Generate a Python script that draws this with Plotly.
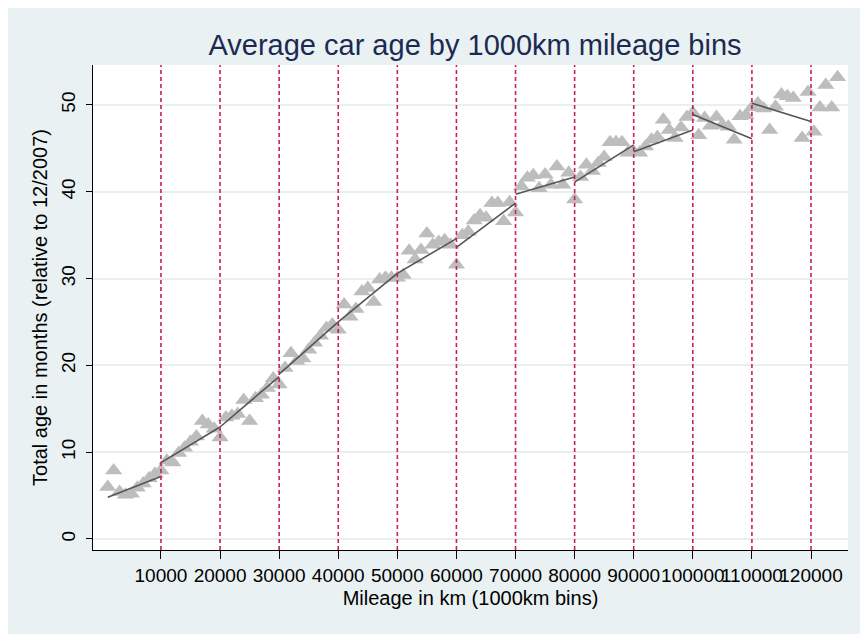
import plotly.graph_objects as go

# Binned averages (mileage in km, age in months)
mileage = [1000, 2000, 3000, 4000, 5000, 6000, 7000, 8000, 9000, 10000,
           11000, 12000, 13000, 14000, 15000, 16000, 17000, 18000, 19000, 20000,
           21000, 22000, 23000, 24000, 25000, 26000, 27000, 28000, 29000, 30000,
           31000, 32000, 33000, 34000, 35000, 36000, 37000, 38000, 39000, 40000,
           41000, 42000, 43000, 44000, 45000, 46000, 47000, 48000, 49000, 50000,
           51000, 52000, 53000, 54000, 55000, 56000, 57000, 58000, 59000, 60000,
           61000, 62000, 63000, 64000, 65000, 66000, 67000, 68000, 69000, 70000,
           71000, 72000, 73000, 74000, 75000, 76000, 77000, 78000, 79000, 80000,
           81000, 82000, 83000, 84000, 85000, 86000, 87000, 88000, 89000, 90000,
           91000, 92000, 93000, 94000, 95000, 96000, 97000, 98000, 99000, 100000,
           101000, 102000, 103000, 104000, 105000, 106000, 107000, 108000, 109000, 110000,
           111000, 112000, 113000, 114000, 115000, 116000, 117000, 118500,
           119500, 120500, 121500, 122500, 123500, 124500]
age = [6.0, 7.9, 5.4, 5.1, 5.2, 5.9, 6.4, 7.0, 7.5, 7.9,
       9.0, 8.8, 9.9, 10.5, 11.2, 11.8, 13.6, 13.2, 12.7, 11.7,
       14.0, 14.2, 14.4, 16.0, 13.6, 16.2, 16.6, 17.4, 18.5, 17.8,
       19.7, 21.4, 20.5, 20.8, 21.8, 22.6, 23.4, 24.3, 24.7, 24.1,
       27.0, 25.6, 26.5, 28.5, 28.9, 27.3, 29.9, 30.1, 30.1, 30.1,
       30.4, 33.2, 32.2, 33.3, 35.2, 33.9, 34.2, 34.4, 33.9, 31.6,
       35.0, 35.4, 36.7, 37.3, 37.0, 38.7, 38.7, 36.6, 38.8, 37.6,
       40.6, 41.6, 41.9, 40.4, 42.0, 40.8, 42.9, 40.8, 42.2, 39.1,
       41.7, 43.1, 42.4, 43.3, 44.0, 45.7, 45.7, 45.7, 44.5, 44.6,
       44.5, 45.2, 46.0, 46.3, 48.3, 47.1, 46.2, 47.4, 48.6, 49.1,
       46.5, 48.5, 47.6, 48.6, 47.7, 47.5, 46.0, 48.7, 48.8, 49.7,
       50.2, 49.6, 47.1, 49.8, 51.2, 51.0, 50.8, 46.2,
       51.5, 46.9, 49.7, 52.3, 49.7, 53.2]

# Piecewise linear fits within each 10000 km bin
seg_start_x = [1000, 10000, 20000, 30000, 40000, 50000, 60000, 70000, 80000, 90000, 100000, 110000]
seg_end_x = [10000, 20000, 30000, 40000, 50000, 60000, 70000, 80000, 90000, 100000, 110000, 120000]
seg_start_y = [4.8, 8.8, 12.9, 19.0, 25.0, 30.6, 33.6, 39.7, 41.1, 44.6, 48.9, 50.2]
seg_end_y = [7.2, 12.9, 18.7, 25.0, 30.6, 34.6, 38.7, 41.7, 45.4, 47.1, 46.1, 48.1]

# Bin boundaries (dashed reference lines)
bin_lines = [10000, 20000, 30000, 40000, 50000, 60000, 70000, 80000, 90000, 100000, 110000, 120000]
x_ticks = bin_lines
x_tick_labels = [str(v) for v in x_ticks]
y_ticks = [0, 10, 20, 30, 40, 50]

fig = go.Figure()

fig.add_trace(go.Scatter(
    x=mileage, y=age, mode="markers",
    marker=dict(symbol="triangle-up", size=15, color="#bdbdbd", line=dict(width=0)),
    showlegend=False, hoverinfo="skip"))

lx, ly = [], []
for x0, x1, y0, y1 in zip(seg_start_x, seg_end_x, seg_start_y, seg_end_y):
    lx += [x0, x1, None]
    ly += [y0, y1, None]
fig.add_trace(go.Scatter(x=lx, y=ly, mode="lines",
                         line=dict(color="#555555", width=1.6),
                         showlegend=False, hoverinfo="skip"))

for b in bin_lines:
    fig.add_shape(type="line", xref="x", yref="paper", x0=b, x1=b, y0=0, y1=1,
                  line=dict(color="#cf1f4d", width=1.6, dash="4px,3px"), layer="above")

fig.update_layout(
    width=868, height=634,
    paper_bgcolor="#e9f1f3", plot_bgcolor="white",
    margin=dict(l=85, r=28, t=57, b=92, autoexpand=False),
    font=dict(family="Liberation Sans, Arial, sans-serif", size=19, color="black"),
    title=dict(text="Average car age by 1000km mileage bins",
               font=dict(size=29, color="#1c2a52"),
               x=0.506, xref="paper", xanchor="center",
               yref="container", y=0.9416, yanchor="middle"),
    xaxis=dict(range=[-1500, 126260], tickvals=x_ticks, ticktext=x_tick_labels,
               tickangle=0, automargin=False,
               showgrid=False, zeroline=False, showline=True, linecolor="black", linewidth=1,
               ticks="outside", ticklen=8, tickcolor="black",
               title=dict(text="Mileage in km (1000km bins)", font=dict(size=20), standoff=6)),
    yaxis=dict(range=[-1.27, 54.6], tickvals=y_ticks, tickangle=-90, automargin=False,
               ticklabelstandoff=3,
               showgrid=True, gridcolor="#e6eff2", gridwidth=1.5,
               zeroline=False, showline=True, linecolor="black", linewidth=1,
               ticks="outside", ticklen=6, tickcolor="black",
               title=dict(text="Total age in months (relative to 12/2007)", font=dict(size=20), standoff=5)),
)

fig.write_html("out.html")
